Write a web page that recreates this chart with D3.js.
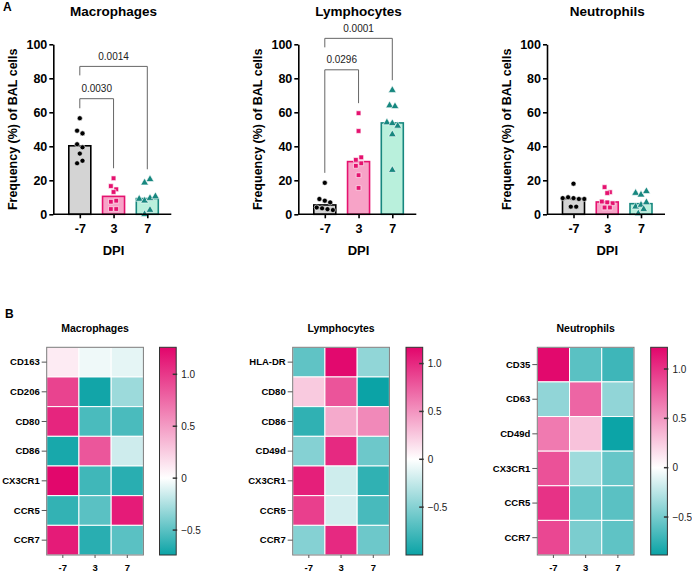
<!DOCTYPE html>
<html>
<head>
<meta charset="utf-8">
<script src="https://cdn.jsdelivr.net/npm/d3@7"></script>
<style>
  body { margin: 0; background: #fff; }
  svg { font-family: "Liberation Sans", Arial, sans-serif; }
</style>
</head>
<body>
<svg id="chart" width="692" height="572"></svg>
<script>
// ---- data ----
const dpi = ["-7", "3", "7"];
const yTicks = [0, 20, 40, 60, 80, 100];

// individual animals, % of BAL cells (bars = median)
const macrophagePts = [
  [56.5, 49.2, 47.6, 41.2, 39.4, 35.7, 30, 31.5],
  [21.2, 16.6, 14.7, 13.1, 7.4, 8, 3.1, 3.1],
  [18.6, 20.6, 9, 8, 9.5, 10.5, 0, 2.5]
];
const lymphocytePts = [
  [18.5, 9, 8, 7, 4, 3.5, 3, 2.5],
  [59.5, 49, 32, 33.5, 28.5, 30, 23, 15.5],
  [73, 64, 63.5, 54, 53.5, 52, 47, 26]
];
const neutrophilPts = [
  [18, 9.5, 10, 9.5, 9, 9, 4.5, 4.5],
  [16, 13, 12.5, 7.5, 7, 6.5, 4, 4],
  [12.5, 11.5, 13.5, 4.5, 5.5, 7, 0.5, 3]
];

// significance: group a vs group b, p value, bracket height in % units
const macrophageTests = [
  { a: 0, b: 1, p: "0.0030", level: 68 },
  { a: 0, b: 2, p: "0.0014", level: 87 }
];
const lymphocyteTests = [
  { a: 0, b: 1, p: "0.0296", level: 85 },
  { a: 0, b: 2, p: "0.0001", level: 103.5 }
];

// heatmaps (z-scores)
const macMarkers = ["CD163", "CD206", "CD80", "CD86", "CX3CR1", "CCR5", "CCR7"];
const macZ = [
  [0.1, -0.05, -0.08],
  [0.95, -0.72, -0.3],
  [1.1, -0.55, -0.55],
  [-0.7, 0.85, -0.15],
  [1.25, -0.58, -0.65],
  [-0.62, -0.5, 1.15],
  [1.15, -0.65, -0.5]
];
const macRange = [-0.74, 1.26];

const lymMarkers = ["HLA-DR", "CD80", "CD86", "CD49d", "CX3CR1", "CCR5", "CCR7"];
const lymZ = [
  [-0.65, 1.15, -0.45],
  [0.25, 0.8, -1.0],
  [-0.85, 0.4, 0.55],
  [-0.5, 1.0, -0.6],
  [1.05, -0.2, -0.85],
  [0.9, -0.18, -0.75],
  [-0.5, 1.0, -0.6]
];
const lymRange = [-1.0, 1.17];

const neuMarkers = ["CD35", "CD63", "CD49d", "CX3CR1", "CCR5", "CCR7"];
const neuZ = [
  [1.2, -0.6, -0.7],
  [-0.4, 0.75, -0.4],
  [0.65, 0.3, -0.88],
  [0.85, -0.35, -0.55],
  [1.0, -0.55, -0.6],
  [0.9, -0.48, -0.58]
];
const neuRange = [-0.885, 1.22];
const cbTicks = [-0.5, 0, 0.5, 1.0];

// ---- styles ----
const barFill = ["#d4d4d4", "#f7a3c7", "#b9f0dc"];
const barStroke = ["#000000", "#e5126f", "#17877f"];
const symbols = [d3.symbolCircle, d3.symbolSquare, d3.symbolTriangle];
const symSize = [20, 22, 26];
const teal = "#0ba3a6", pink = "#e2056b";

const svg = d3.select("#chart");

svg.append("text").attr("x", 3).attr("y", 11)
  .attr("font-size", 12).attr("font-weight", "bold").text("A");
svg.append("text").attr("x", 5).attr("y", 318)
  .attr("font-size", 12).attr("font-weight", "bold").text("B");

// Prism-like scatter: points in close rows are spread around the centre
function spread(values, y, rowPx, step) {
  const order = values.map((v, i) => i).sort((a, b) => values[b] - values[a]);
  const rows = [];
  order.forEach(i => {
    const cur = rows[rows.length - 1];
    if (cur && Math.abs(y(values[i]) - y(values[cur[0]])) < rowPx) cur.push(i);
    else rows.push([i]);
  });
  const off = [];
  rows.forEach(r => {
    r.sort((a, b) => a - b);
    r.forEach((i, k) => off[i] = (k - (r.length - 1) / 2) * step);
  });
  return off;
}

function barPanel(title, pts, tests, x0) {
  const top = 44.3, bottom = 214.3, axisLen = 118;
  const g = svg.append("g");
  const y = d3.scaleLinear().domain([0, 100]).range([bottom, top]);
  const x = d3.scalePoint().domain(dpi).range([x0 + 26.5, x0 + 94]);
  const cx = x(dpi[1]);

  g.append("text").attr("x", cx).attr("y", 16).attr("text-anchor", "middle")
    .attr("font-size", 13.5).attr("font-weight", "bold").text(title);

  // bars
  pts.forEach((vals, i) => {
    const m = d3.median(vals);
    g.append("rect")
      .attr("x", x(dpi[i]) - 11).attr("width", 22)
      .attr("y", y(m)).attr("height", y(0) - y(m))
      .attr("fill", barFill[i]).attr("stroke", barStroke[i]).attr("stroke-width", 1.6);
  });

  // points
  pts.forEach((vals, i) => {
    const off = spread(vals, y, 5.2, 5.4);
    g.selectAll(null).data(vals).join("path")
      .attr("d", d3.symbol(symbols[i], symSize[i]))
      .attr("transform", (d, k) => `translate(${x(dpi[i]) + off[k]},${y(d)})`)
      .attr("fill", barStroke[i]).attr("stroke", "#fff").attr("stroke-width", 0.6);
  });

  // axes
  const ya = g.append("g").attr("transform", `translate(${x0},0)`)
    .call(d3.axisLeft(y).tickValues(yTicks).tickSize(4).tickSizeOuter(0).tickPadding(2));
  const xa = g.append("g").attr("transform", `translate(0,${bottom})`)
    .call(d3.axisBottom(x).tickSize(4).tickSizeOuter(0).tickPadding(6));
  xa.select(".domain").attr("d", `M${x0},0H${x0 + axisLen}`);
  [ya, xa].forEach(a => {
    a.selectAll("path,line").attr("stroke", "#000").attr("stroke-width", 1.6);
    a.selectAll("text").attr("font-size", 12.5).attr("font-weight", "bold")
      .attr("fill", "#000").attr("font-family", null);
  });

  g.append("text").attr("x", cx).attr("y", 255).attr("text-anchor", "middle")
    .attr("font-size", 13).attr("font-weight", "bold").text("DPI");
  g.append("text")
    .attr("transform", `translate(${x0 - 36},${(top + bottom) / 2}) rotate(-90)`)
    .attr("text-anchor", "middle").attr("font-size", 12.5).attr("font-weight", "bold")
    .text("Frequency (%) of BAL cells");

  // significance brackets
  tests.forEach(t => {
    const ly = y(t.level);
    const legEnd = grp => {
      const lower = tests.some(o => o !== t && o.level < t.level && (o.a === grp || o.b === grp));
      return lower ? ly + 9 : y(d3.max(pts[grp])) - 10;
    };
    const xa_ = x(dpi[t.a]), xb_ = x(dpi[t.b]);
    g.append("path")
      .attr("d", `M${xa_},${legEnd(t.a)}V${ly}H${xb_}V${legEnd(t.b)}`)
      .attr("fill", "none").attr("stroke", "#666").attr("stroke-width", 1);
    g.append("text").attr("x", (xa_ + xb_) / 2).attr("y", ly - 6.5)
      .attr("text-anchor", "middle").attr("font-size", 10).attr("fill", "#222").text(t.p);
  });
}

barPanel("Macrophages", macrophagePts, macrophageTests, 53.3);
barPanel("Lymphocytes", lymphocytePts, lymphocyteTests, 298.3);
barPanel("Neutrophils", neutrophilPts, [], 547);

function heatmap(title, markers, z, range, x0, cbX, id) {
  const top = 347.3, bottom = 555, w = 96.7;
  const g = svg.append("g");
  const x = d3.scaleBand().domain(dpi).range([x0, x0 + w]);
  const y = d3.scaleBand().domain(markers).range([top, bottom]);
  const color = d3.scaleLinear().domain([range[0], 0, range[1]]).range([teal, "#ffffff", pink]);

  g.append("text").attr("x", x0 + w / 2).attr("y", 332).attr("text-anchor", "middle")
    .attr("font-size", 10.5).attr("font-weight", "bold").text(title);

  z.forEach((row, r) => {
    g.selectAll(null).data(row).join("rect")
      .attr("x", (d, c) => x(dpi[c])).attr("y", y(markers[r]))
      .attr("width", x.bandwidth()).attr("height", y.bandwidth())
      .attr("fill", d => color(d)).attr("stroke", "#fff").attr("stroke-width", 1);
  });
  g.append("rect").attr("x", x0).attr("y", top).attr("width", w).attr("height", bottom - top)
    .attr("fill", "none").attr("stroke", "#7a7a7a").attr("stroke-width", 1);

  const ya = g.append("g").attr("transform", `translate(${x0},0)`)
    .call(d3.axisLeft(y).tickSize(5).tickPadding(2));
  const xa = g.append("g").attr("transform", `translate(0,${bottom})`)
    .call(d3.axisBottom(x).tickSize(3).tickPadding(6));
  [ya, xa].forEach(a => {
    a.select(".domain").remove();
    a.selectAll("line").attr("stroke", "#555").attr("stroke-width", 1);
    a.selectAll("text").attr("font-size", 9.5).attr("font-weight", "bold")
      .attr("fill", "#000").attr("font-family", null);
  });

  // colour bar
  const cw = 16.7;
  const cy = d3.scaleLinear().domain(range).range([bottom, top]);
  const grad = svg.append("defs").append("linearGradient").attr("id", id)
    .attr("x1", 0).attr("y1", 1).attr("x2", 0).attr("y2", 0);
  [range[0], 0, range[1]].forEach(v => {
    grad.append("stop").attr("offset", (v - range[0]) / (range[1] - range[0]))
      .attr("stop-color", color(v));
  });
  g.append("rect").attr("x", cbX).attr("y", top).attr("width", cw).attr("height", bottom - top)
    .attr("fill", `url(#${id})`).attr("stroke", "#333").attr("stroke-width", 1);
  g.selectAll(null).data(cbTicks).join("line")
    .attr("x1", cbX + cw - 3.5).attr("x2", cbX + cw + 1)
    .attr("y1", d => cy(d)).attr("y2", d => cy(d))
    .attr("stroke", "#333").attr("stroke-width", 1.5);
  g.selectAll(null).data(cbTicks).join("text")
    .attr("x", cbX + cw + 5).attr("y", d => cy(d)).attr("dy", "0.35em")
    .attr("font-size", 10).attr("fill", "#222")
    .text(d => d === 0 ? "0" : d3.format(".1f")(d));
}

heatmap("Macrophages", macMarkers, macZ, macRange, 46.7, 159.5, "gMac");
heatmap("Lymphocytes", lymMarkers, lymZ, lymRange, 292.7, 406, "gLym");
heatmap("Neutrophils", neuMarkers, neuZ, neuRange, 537.3, 650.7, "gNeu");
</script>
</body>
</html>
